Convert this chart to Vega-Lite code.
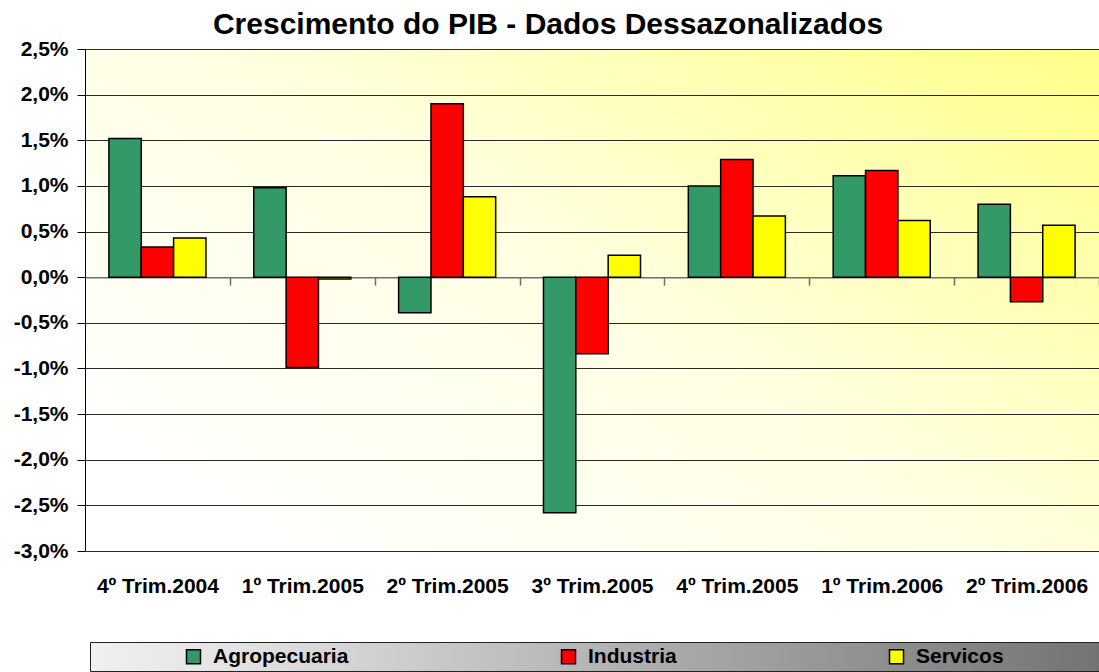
{
  "$schema": "https://vega.github.io/schema/vega-lite/v6.json",
  "autosize": "none",
  "padding": {"left": 85, "top": 49, "right": 0, "bottom": 121},
  "width": 1014,
  "height": 502,
  "background": "white",
  "view": {
    "stroke": null,
    "fill": {
      "gradient": "linear", "x1": 0, "y1": 0.8, "x2": 1, "y2": 0,
      "stops": [
        {"offset": 0, "color": "#ffffff"},
        {"offset": 0.45, "color": "#ffffe4"},
        {"offset": 1, "color": "#ffff88"}
      ]
    }
  },
  "title": {
    "text": "Crescimento do PIB - Dados Dessazonalizados",
    "font": "Liberation Sans",
    "fontSize": 30,
    "fontWeight": "bold",
    "color": "black",
    "anchor": "middle",
    "frame": "group",
    "dx": -44,
    "offset": -2
  },
  "data": {
    "values": [
      {"periodo": "4º Trim.2004", "setor": "Agropecuaria", "valor": 1.52},
      {"periodo": "4º Trim.2004", "setor": "Industria", "valor": 0.33},
      {"periodo": "4º Trim.2004", "setor": "Servicos", "valor": 0.43},
      {"periodo": "1º Trim.2005", "setor": "Agropecuaria", "valor": 0.98},
      {"periodo": "1º Trim.2005", "setor": "Industria", "valor": -0.99},
      {"periodo": "1º Trim.2005", "setor": "Servicos", "valor": -0.02},
      {"periodo": "2º Trim.2005", "setor": "Agropecuaria", "valor": -0.39},
      {"periodo": "2º Trim.2005", "setor": "Industria", "valor": 1.90},
      {"periodo": "2º Trim.2005", "setor": "Servicos", "valor": 0.88},
      {"periodo": "3º Trim.2005", "setor": "Agropecuaria", "valor": -2.58},
      {"periodo": "3º Trim.2005", "setor": "Industria", "valor": -0.84},
      {"periodo": "3º Trim.2005", "setor": "Servicos", "valor": 0.24},
      {"periodo": "4º Trim.2005", "setor": "Agropecuaria", "valor": 1.00},
      {"periodo": "4º Trim.2005", "setor": "Industria", "valor": 1.29},
      {"periodo": "4º Trim.2005", "setor": "Servicos", "valor": 0.67},
      {"periodo": "1º Trim.2006", "setor": "Agropecuaria", "valor": 1.11},
      {"periodo": "1º Trim.2006", "setor": "Industria", "valor": 1.17},
      {"periodo": "1º Trim.2006", "setor": "Servicos", "valor": 0.62},
      {"periodo": "2º Trim.2006", "setor": "Agropecuaria", "valor": 0.80},
      {"periodo": "2º Trim.2006", "setor": "Industria", "valor": -0.27},
      {"periodo": "2º Trim.2006", "setor": "Servicos", "valor": 0.57}
    ]
  },
  "mark": {"type": "bar", "stroke": "black", "strokeWidth": 1.5},
  "encoding": {
    "x": {
      "field": "periodo",
      "type": "nominal",
      "sort": null,
      "scale": {"paddingInner": 0.33, "paddingOuter": 0.165},
      "axis": {
        "title": null,
        "orient": "bottom",
        "offset": -273.8,
        "domainColor": "#6e6e6e",
        "domainWidth": 1.5,
        "tickColor": "#6e6e6e",
        "tickWidth": 1.5,
        "tickSize": 8,
        "tickOffset": 72.43,
        "labelOffset": -72.43,
        "labelAngle": 0,
        "labelPadding": 290,
        "labelFont": "Liberation Sans",
        "labelFontSize": 21,
        "labelFontWeight": "bold",
        "labelColor": "black",
        "grid": false
      }
    },
    "xOffset": {
      "field": "setor",
      "type": "nominal",
      "sort": ["Agropecuaria", "Industria", "Servicos"],
      "scale": {"paddingInner": 0, "paddingOuter": 0}
    },
    "y": {
      "field": "valor",
      "type": "quantitative",
      "scale": {"domain": [-3, 2.5], "nice": false, "zero": false},
      "axis": {
        "title": null,
        "values": [-3, -2.5, -2, -1.5, -1, -0.5, 0, 0.5, 1, 1.5, 2, 2.5],
        "labelExpr": "replace(replace(format(datum.value, '.1f'), '.', ','), '−', '-') + '%'",
        "labelFont": "Liberation Sans",
        "labelFontSize": 21,
        "labelFontWeight": "bold",
        "labelColor": "black",
        "labelPadding": 9,
        "tickSize": 8,
        "tickColor": "black",
        "domainColor": "black",
        "gridColor": "#2a2a2a",
        "gridWidth": 1
      }
    },
    "color": {
      "field": "setor",
      "type": "nominal",
      "scale": {
        "domain": ["Agropecuaria", "Industria", "Servicos"],
        "range": ["#339966", "#ff0000", "#ffff00"]
      },
      "legend": {
        "orient": "none",
        "legendX": 5,
        "legendY": 593,
        "direction": "horizontal",
        "title": " ",
        "titleOrient": "right",
        "titleFont": "Liberation Sans",
        "titleFontSize": 21,
        "titlePadding": 100,
        "padding": 4,
        "symbolType": "square",
        "symbolSize": 196,
        "symbolOffset": 89,
        "symbolStrokeColor": "black",
        "symbolStrokeWidth": 1.5,
        "symbolOpacity": 1,
        "labelFont": "Liberation Sans",
        "labelFontSize": 21,
        "labelFontWeight": "bold",
        "labelColor": "black",
        "labelOffset": 9,
        "labelLimit": 400,
        "columnPadding": 120,
        "strokeColor": "#222222",
        "encode": {
          "legend": {
            "update": {
              "fill": {
                "value": {
                  "gradient": "linear", "x1": 0, "y1": 0, "x2": 1, "y2": 0,
                  "stops": [
                    {"offset": 0, "color": "#f0f0f0"},
                    {"offset": 0.15, "color": "#e2e2e2"},
                    {"offset": 0.48, "color": "#b6b6b6"},
                    {"offset": 1, "color": "#727272"}
                  ]
                }
              }
            }
          }
        }
      }
    }
  }
}
